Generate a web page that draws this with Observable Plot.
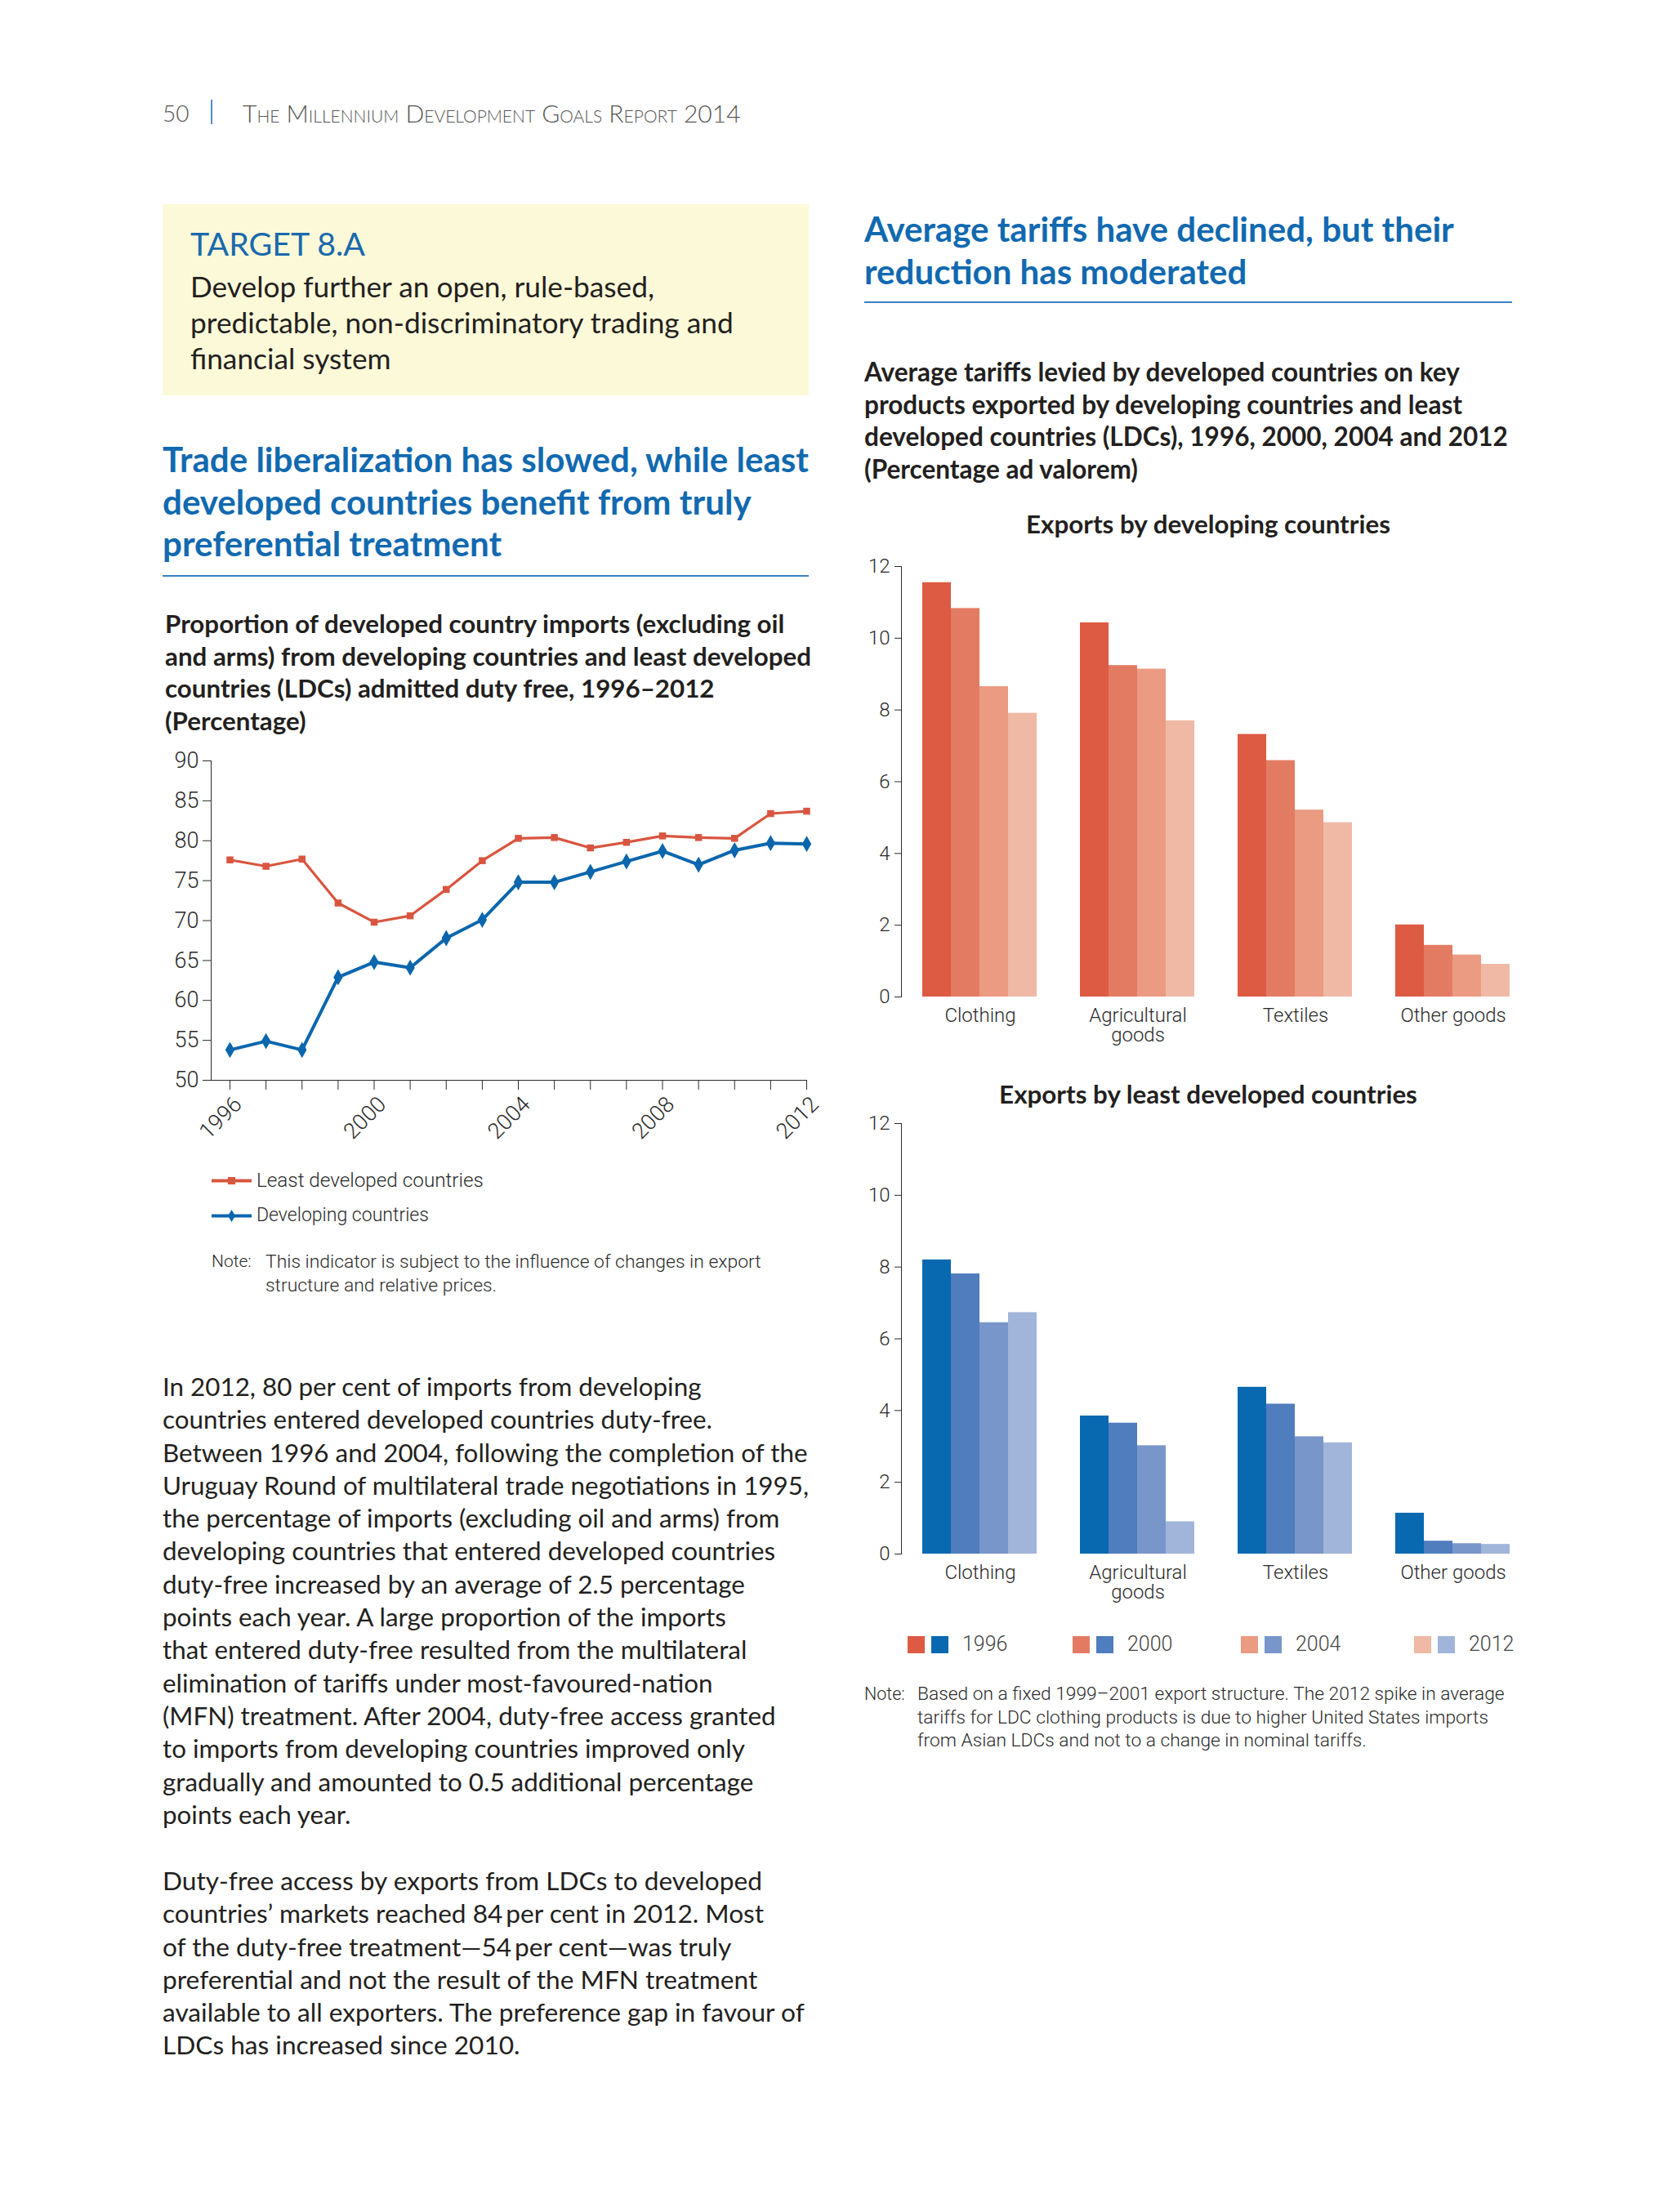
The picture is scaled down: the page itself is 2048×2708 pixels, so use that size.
<!DOCTYPE html>
<html><head><meta charset="utf-8">
<script src="https://cdn.jsdelivr.net/npm/d3@7"></script>
<script src="https://cdn.jsdelivr.net/npm/@observablehq/plot@0.6"></script>
<style>
html,body{margin:0;padding:0;background:#fff;}
#page{position:relative;width:2048px;height:2708px;overflow:hidden;font-family:Lato,"Open Sans",sans-serif;color:#231f20;}
.a{position:absolute;white-space:nowrap;}
.blue{color:#1169b0;}
.rule{position:absolute;height:2px;background:#3c80c2;}
.chart{position:absolute;}
.lab{font-family:Roboto,"Noto Sans",sans-serif;font-weight:300;color:#2a2a2a;}
.sw{position:absolute;width:21px;height:21px;}
</style></head>
<body><div id="page">
  <div class="a" style="left:199px;top:119px;font-size:28px;line-height:38px;color:#555;font-weight:300;">50</div>
  <div style="position:absolute;left:258px;top:122px;width:2px;height:30px;background:#4f8cc9;"></div>
  <div class="a" data-w="610" style="left:297px;top:119px;font-size:30px;line-height:38px;color:#555;font-variant:small-caps;font-weight:300;">The Millennium Development Goals Report 2014</div>

  <div style="position:absolute;left:199px;top:250px;width:791px;height:234px;background:#fcf9d8;"></div>
  <div class="a blue" data-w="214" style="left:233px;top:276px;font-size:38px;line-height:44px;color:#1a69ad;">TARGET 8.A</div>
  <div class="a" data-w="665" style="left:233px;top:329px;font-size:33px;line-height:44px;">Develop further an open, rule-based,<br>predictable, non-discriminatory trading and<br>financial system</div>

  <div class="a blue" data-w="791" style="left:199px;top:536px;font-size:38px;line-height:51.5px;font-weight:700;">Trade liberalization has slowed, while least<br>developed countries benefit from truly<br>preferential treatment</div>
  <div class="rule" style="left:199px;top:704px;width:791px;"></div>
  <div class="a" data-w="791" style="left:202px;top:744px;font-size:29px;line-height:39.6px;font-weight:700;">Proportion of developed country imports (excluding oil<br>and arms) from developing countries and least developed<br>countries (LDCs) admitted duty free, 1996–2012<br>(Percentage)</div>

  <div id="lineChart" class="chart" style="left:180px;top:900px;"></div>
  <div id="lineLegend"></div>
  <div class="a lab" style="left:259px;top:1530px;font-size:21px;line-height:29px;">Note:</div>
  <div class="a lab" data-w="607" style="left:325px;top:1530px;font-size:21px;line-height:29px;">This indicator is subject to the influence of changes in export<br>structure and relative prices.</div>

  <div class="a" data-w="791" style="left:199px;top:1677px;font-size:29px;line-height:40.3px;">In 2012, 80 per cent of imports from developing<br>countries entered developed countries duty-free.<br>Between 1996 and 2004, following the completion of the<br>Uruguay Round of multilateral trade negotiations in 1995,<br>the percentage of imports (excluding oil and arms) from<br>developing countries that entered developed countries<br>duty-free increased by an average of 2.5 percentage<br>points each year. A large proportion of the imports<br>that entered duty-free resulted from the multilateral<br>elimination of tariffs under most-favoured-nation<br>(MFN) treatment. After 2004, duty-free access granted<br>to imports from developing countries improved only<br>gradually and amounted to 0.5 additional percentage<br>points each year.</div>
  <div class="a" data-w="786" style="left:199px;top:2282px;font-size:29px;line-height:40.3px;">Duty-free access by exports from LDCs to developed<br>countries’ markets reached 84&#8201;per cent in 2012. Most<br>of the duty-free treatment—54&#8201;per cent—was truly<br>preferential and not the result of the MFN treatment<br>available to all exporters. The preference gap in favour of<br>LDCs has increased since 2010.</div>

  <div class="a blue" data-w="722" style="left:1058px;top:254px;font-size:38px;line-height:52px;font-weight:700;">Average tariffs have declined, but their<br>reduction has moderated</div>
  <div class="rule" style="left:1058px;top:369px;width:793px;"></div>
  <div class="a" data-w="788" style="left:1058px;top:436px;font-size:29px;line-height:39.7px;font-weight:700;">Average tariffs levied by developed countries on key<br>products exported by developing countries and least<br>developed countries (LDCs), 1996, 2000, 2004 and 2012<br>(Percentage ad valorem)</div>

  <div class="a" data-w="446" style="left:1479px;transform:translateX(-50%);top:621px;font-size:29px;line-height:40px;font-weight:700;">Exports by developing countries</div>
  <div id="barDev" class="chart" style="left:1040px;top:670px;"></div>
  <div class="a" data-w="512" style="left:1479px;transform:translateX(-50%);top:1319px;font-size:29px;line-height:40px;font-weight:700;">Exports by least developed countries</div>
  <div id="barLdc" class="chart" style="left:1040px;top:1352px;"></div>

  <div id="barLegend"></div>
  <div class="a lab" style="left:1058px;top:2060px;font-size:21.5px;line-height:28.5px;">Note:</div>
  <div class="a lab" data-w="719" style="left:1123px;top:2060px;font-size:21.5px;line-height:28.5px;">Based on a fixed 1999–2001 export structure. The 2012 spike in average<br>tariffs for LDC clothing products is due to higher United States imports<br>from Asian LDCs and not to a change in nominal tariffs.</div>
</div>
<script>
// ---------- Data: line chart ----------
const years = [1996, 1997, 1998, 1999, 2000, 2001, 2002, 2003, 2004, 2005, 2006, 2007, 2008, 2009, 2010, 2011, 2012];
const yearLabels = [1996, 2000, 2004, 2008, 2012];
const ldcShare = [77.6, 76.8, 77.7, 72.2, 69.8, 70.6, 73.9, 77.5, 80.3, 80.4, 79.1, 79.8, 80.6, 80.4, 80.3, 83.4, 83.7];
const devShare = [53.8, 54.9, 53.8, 62.9, 64.8, 64.1, 67.8, 70.1, 74.8, 74.8, 76.1, 77.4, 78.7, 77.0, 78.8, 79.7, 79.6];
const shareTicks = [50, 55, 60, 65, 70, 75, 80, 85, 90];
const seriesNames = ["Least developed countries", "Developing countries"];

// ---------- Data: bar charts ----------
const categories = ["Clothing", "Agricultural goods", "Textiles", "Other goods"];
const categoryLabels = ["Clothing", "Agricultural\ngoods", "Textiles", "Other goods"];
const barYears = ["1996", "2000", "2004", "2012"];
const tariffTicks = [0, 2, 4, 6, 8, 10, 12];
const devT1996 = [11.55, 10.43, 7.32, 2.01];
const devT2000 = [10.83, 9.24, 6.59, 1.44];
const devT2004 = [8.65, 9.14, 5.21, 1.17];
const devT2012 = [7.91, 7.70, 4.86, 0.91];
const ldcT1996 = [8.20, 3.85, 4.65, 1.14];
const ldcT2000 = [7.81, 3.65, 4.18, 0.36];
const ldcT2004 = [6.45, 3.02, 3.27, 0.29];
const ldcT2012 = [6.73, 0.90, 3.10, 0.27];

const RED = "#d9553f", BLUE = "#0a66ad";
const redShades = ["#dd5a43", "#e37b63", "#ea9b82", "#efb9a5"];
const blueShades = ["#0868b0", "#4f7dbe", "#7896c9", "#a1b4da"];

const ldcRows = years.map((year, i) => ({year, value: ldcShare[i], series: seriesNames[0]}));
const devRows = years.map((year, i) => ({year, value: devShare[i], series: seriesNames[1]}));

const labStyle = {fontFamily: "Roboto, 'Noto Sans', sans-serif", fontWeight: 300, color: "#2a2a2a", background: "transparent", overflow: "visible"};

const line = Plot.plot({
  width: 840, height: 520,
  marginLeft: 78, marginRight: 33, marginTop: 31, marginBottom: 98,
  style: {...labStyle, fontSize: "27px"},
  x: {domain: [1996, 2012], insetLeft: 23, ticks: years, tickFormat: () => "",
      tickSize: 12, line: true, label: null},
  y: {domain: [50, 90], ticks: shareTicks, tickSize: 10, tickPadding: 5, line: true, label: null},
  marks: [
    Plot.text(yearLabels, {x: d => d, text: d => String(d), frameAnchor: "bottom", rotate: -45,
      textAnchor: "end", lineAnchor: "middle", dx: 10, dy: 25, fill: "#2a2a2a"}),
    Plot.line(ldcRows, {x: "year", y: "value", stroke: RED, strokeWidth: 3.2}),
    Plot.line(devRows, {x: "year", y: "value", stroke: BLUE, strokeWidth: 4}),
    Plot.dot(ldcRows, {x: "year", y: "value", symbol: "square", r: 4.8, fill: RED}),
    Plot.dot(devRows, {x: "year", y: "value", symbol: "diamond", r: 6, fill: BLUE})
  ]
});
document.getElementById("lineChart").append(line);

// line legend
const lineLegend = document.getElementById("lineLegend");
[[seriesNames[0], RED, "square", 1445], [seriesNames[1], BLUE, "diamond", 1488]].forEach(([name, c, sym, cy]) => {
  const marker = sym === "square"
    ? `<rect x="20" y="7" width="9" height="9" fill="${c}"/>`
    : `<path d="M24.5 4 L29 11.5 L24.5 19 L20 11.5 Z" fill="${c}"/>`;
  lineLegend.insertAdjacentHTML("beforeend",
    `<svg style="position:absolute;left:259px;top:${cy - 11.5}px" width="50" height="23"><line x1="0" x2="49" y1="11.5" y2="11.5" stroke="${c}" stroke-width="4"/>${marker}</svg>` +
    `<div class="a lab" data-w="${name === seriesNames[0] ? 278 : 211}" style="left:314px;top:${cy - 16}px;font-size:24px;line-height:32px;">${name}</div>`);
});

function rowsFor(arrs) {
  return categories.flatMap((cat, i) => barYears.map((year, j) => ({cat, year, value: arrs[j][i]})));
}
function barChart(rows, shades) {
  return Plot.plot({
    width: 840, height: 620,
    marginLeft: 63, marginRight: 5, marginTop: 23, marginBottom: 70,
    style: {...labStyle, fontSize: "24px"},
    fx: {domain: categories, padding: 0, axis: "bottom", tickSize: 0, tickPadding: 13, label: null,
         tickFormat: d => categoryLabels[categories.indexOf(d)]},
    x: {domain: barYears, padding: 0, insetLeft: 25, insetRight: 26, axis: null},
    y: {domain: [0, 12], ticks: tariffTicks, tickSize: 8, tickPadding: 6, line: true, label: null},
    color: {domain: barYears, range: shades},
    marks: [Plot.barY(rows, {fx: "cat", x: "year", y: "value", fill: "year"})]
  });
}
document.getElementById("barDev").append(barChart(rowsFor([devT1996, devT2000, devT2004, devT2012]), redShades));
document.getElementById("barLdc").append(barChart(rowsFor([ldcT1996, ldcT2000, ldcT2004, ldcT2012]), blueShades));

// bar legend
const legendX = [1111, 1313, 1519, 1731];
const barLegend = document.getElementById("barLegend");
barYears.forEach((y, i) => {
  barLegend.insertAdjacentHTML("beforeend",
    `<div class="sw" style="left:${legendX[i]}px;top:2003px;background:${redShades[i]}"></div>` +
    `<div class="sw" style="left:${legendX[i] + 29}px;top:2003px;background:${blueShades[i]}"></div>` +
    `<div class="a lab" style="left:${legendX[i] + 67}px;top:1997px;font-size:25px;line-height:32px;color:#444;">${y}</div>`);
});

// fit text widths to the reference
document.querySelectorAll("[data-w]").forEach(el => {
  const target = +el.dataset.w;
  const w = el.getBoundingClientRect().width;
  const fs = parseFloat(getComputedStyle(el).fontSize);
  if (w > 0) el.style.fontSize = (fs * target / w).toFixed(2) + "px";
});
</script>
</body></html>
